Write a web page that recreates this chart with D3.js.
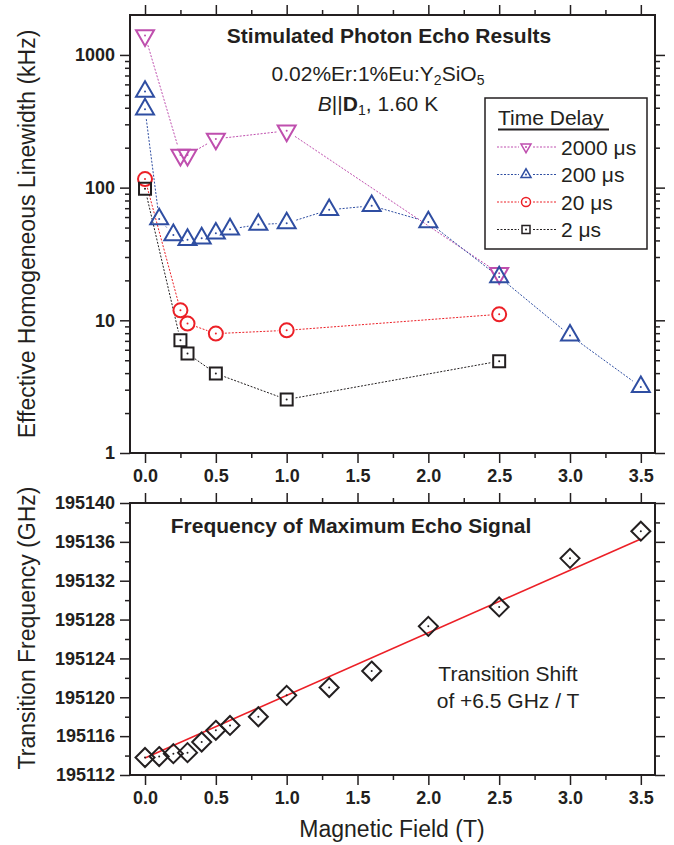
<!DOCTYPE html>
<html>
<head>
<meta charset="utf-8">
<script src="https://cdn.jsdelivr.net/npm/d3@7"></script>
<style>
  body { margin: 0; background: #fff; }
  svg { display: block; font-family: "Liberation Sans", Arial, sans-serif; }
</style>
</head>
<body>
<script>
// Top panel: linewidth (kHz) vs field (T), one array pair per time delay
const x2000 = [0, 0.25, 0.3, 0.5, 1.0, 2.5];
const y2000 = [1400, 176, 176, 233, 268, 22.6];
const x200 = [0, 0, 0.1, 0.2, 0.3, 0.4, 0.5, 0.6, 0.8, 1.0, 1.3, 1.6, 2.0, 2.5, 3.0, 3.5];
const y200 = [530, 390, 58, 44, 40.5, 41.6, 45.3, 48.6, 52.7, 54, 68, 73, 55, 21.2, 7.7, 3.15];
const x20 = [0, 0.25, 0.3, 0.5, 1.0, 2.5];
const y20 = [116, 11.9, 9.45, 7.94, 8.4, 11.1];
const x2 = [0, 0.25, 0.3, 0.5, 1.0, 2.5];
const y2 = [98, 7.07, 5.62, 3.97, 2.53, 4.92];
const delayLabels = ["2000 \u03bcs", "200 \u03bcs", "20 \u03bcs", "2 \u03bcs"];

// Bottom panel: frequency of max echo signal (GHz)
const freqX = [0, 0.1, 0.2, 0.3, 0.4, 0.5, 0.6, 0.8, 1.0, 1.3, 1.6, 2.0, 2.5, 3.0, 3.5];
const freqY = [195113.8, 195113.9, 195114.2, 195114.3, 195115.4, 195116.6, 195117.1, 195118.0,
               195120.2, 195121.0, 195122.7, 195127.3, 195129.3, 195134.3, 195137.1];
const fitX = [0, 3.5];
const fitY = [195113.75, 195136.3];

const fieldTicks = [0, 0.5, 1.0, 1.5, 2.0, 2.5, 3.0, 3.5];
const fieldMinor = [0.25, 0.75, 1.25, 1.75, 2.25, 2.75, 3.25];
const lwTicks = [1, 10, 100, 1000];
const freqTicks = [195112, 195116, 195120, 195124, 195128, 195132, 195136, 195140];
const freqMinor = [195114, 195118, 195122, 195126, 195130, 195134, 195138];

const W = 674, H = 845;
const ink = "#231f20";
const svg = d3.select("body").append("svg").attr("width", W).attr("height", H);

const L = 130, R = 655;
const top1 = 15, bot1 = 453;
const top2 = 503, bot2 = 775;

const x = d3.scaleLinear().domain([-0.106, 3.6]).range([L, R]);
const yLw = d3.scaleLog().domain([1, 2000]).range([bot1, top1]);
const yF = d3.scaleLinear().domain([195112, 195140]).range([bot2, top2]);

// log minor ticks
const lwMinor = [];
for (let d = 1; d <= 1000; d *= 10)
  for (let k = 2; k <= 9; k++) if (d * k < 2000) lwMinor.push(d * k);

function styleAxis(g, bold) {
  g.select(".domain").remove();
  g.selectAll("line").attr("stroke", ink).attr("stroke-width", 1.5);
  g.selectAll("text").attr("fill", ink).attr("font-size", 18)
    .attr("font-weight", bold ? "bold" : "normal");
}

function drawAxes(yScale, yMaj, yMin, yFmt, t, b, xLabels) {
  // x axes (bottom with optional labels, top without)
  svg.append("g").attr("transform", `translate(0,${b})`)
    .call(d3.axisBottom(x).tickValues(fieldTicks).tickSize(10).tickPadding(6)
      .tickFormat(xLabels ? d3.format(".1f") : ""))
    .call(g => styleAxis(g, true));
  svg.append("g").attr("transform", `translate(0,${b})`)
    .call(d3.axisBottom(x).tickValues(fieldMinor).tickSize(5).tickFormat(""))
    .call(g => styleAxis(g));
  svg.append("g").attr("transform", `translate(0,${t})`)
    .call(d3.axisTop(x).tickValues(fieldTicks).tickSize(10).tickFormat(""))
    .call(g => styleAxis(g));
  svg.append("g").attr("transform", `translate(0,${t})`)
    .call(d3.axisTop(x).tickValues(fieldMinor).tickSize(5).tickFormat(""))
    .call(g => styleAxis(g));
  // y axes
  svg.append("g").attr("transform", `translate(${L},0)`)
    .call(d3.axisLeft(yScale).tickValues(yMaj).tickSize(10).tickPadding(5).tickFormat(yFmt))
    .call(g => styleAxis(g, true));
  svg.append("g").attr("transform", `translate(${L},0)`)
    .call(d3.axisLeft(yScale).tickValues(yMin).tickSize(5).tickFormat(""))
    .call(g => styleAxis(g));
  svg.append("g").attr("transform", `translate(${R},0)`)
    .call(d3.axisRight(yScale).tickValues(yMaj).tickSize(10).tickFormat(""))
    .call(g => styleAxis(g));
  svg.append("g").attr("transform", `translate(${R},0)`)
    .call(d3.axisRight(yScale).tickValues(yMin).tickSize(5).tickFormat(""))
    .call(g => styleAxis(g));
  svg.append("rect").attr("x", L).attr("y", t).attr("width", R - L).attr("height", b - t)
    .attr("fill", "none").attr("stroke", ink).attr("stroke-width", 2);
}

drawAxes(yLw, lwTicks, lwMinor, d3.format("d"), top1, bot1, true);
drawAxes(yF, freqTicks, freqMinor, d3.format("d"), top2, bot2, true);

// marker shapes
function markerPath(kind, s) {
  if (kind === "down") return `M${-s},${-s * 0.58}L${s},${-s * 0.58}L0,${s * 1.15}Z`;
  if (kind === "up") return `M${-s},${s * 0.58}L${s},${s * 0.58}L0,${-s * 1.15}Z`;
  if (kind === "square") return `M${-s},${-s}H${s}V${s}H${-s}Z`;
  if (kind === "diamond") return `M0,${-s}L${s},0L0,${s}L${-s},0Z`;
  return d3.arc()({ innerRadius: 0, outerRadius: s, startAngle: 0, endAngle: 2 * Math.PI });
}

function drawMarker(g, kind, s, cx, cy, color, sw) {
  g.append("path").attr("d", markerPath(kind, s))
    .attr("transform", `translate(${cx},${cy})`)
    .attr("fill", "none").attr("stroke", color).attr("stroke-width", sw);
  g.append("circle").attr("cx", cx).attr("cy", cy).attr("r", 1).attr("fill", color);
}

const series = [
  { xs: x2000, ys: y2000, kind: "down", color: "#bf4fae", size: 9, gap: 10 },
  { xs: x200, ys: y200, kind: "up", color: "#2f4ea2", size: 9, gap: 10 },
  { xs: x20, ys: y20, kind: "circle", color: "#ec2027", size: 7, gap: 9 },
  { xs: x2, ys: y2, kind: "square", color: ink, size: 6, gap: 9 }
];

// dotted connectors, cut short near each marker
series.forEach(s => {
  const pts = s.xs.map((v, i) => [x(v), yLw(s.ys[i])]);
  const g = svg.append("g");
  for (let i = 0; i < pts.length - 1; i++) {
    const [x0, y0] = pts[i], [x1, y1] = pts[i + 1];
    const len = Math.hypot(x1 - x0, y1 - y0);
    if (len <= 2 * s.gap + 1) continue;
    const ux = (x1 - x0) / len, uy = (y1 - y0) / len;
    g.append("line")
      .attr("x1", x0 + ux * s.gap).attr("y1", y0 + uy * s.gap)
      .attr("x2", x1 - ux * s.gap).attr("y2", y1 - uy * s.gap)
      .attr("stroke", s.color).attr("stroke-width", 1).attr("stroke-dasharray", "2,1.5");
  }
});
series.forEach(s => {
  const g = svg.append("g");
  s.xs.forEach((v, i) => drawMarker(g, s.kind, s.size, x(v), yLw(s.ys[i]), s.color, 2));
});

// legend
const lg = svg.append("g");
lg.append("rect").attr("x", 485).attr("y", 98).attr("width", 162).attr("height", 151)
  .attr("fill", "#fff").attr("stroke", ink).attr("stroke-width", 1.5);
lg.append("text").attr("x", 498).attr("y", 125).attr("font-size", 21).attr("fill", ink).text("Time Delay");
lg.append("line").attr("x1", 498).attr("x2", 609).attr("y1", 129.5).attr("y2", 129.5)
  .attr("stroke", ink).attr("stroke-width", 1.8);
const legendSizes = [5, 5, 4.5, 4];
series.forEach((s, i) => {
  const yy = 147 + i * 27.5;
  lg.append("line").attr("x1", 497).attr("x2", 519).attr("y1", yy).attr("y2", yy)
    .attr("stroke", s.color).attr("stroke-width", 1).attr("stroke-dasharray", "2,1.5");
  lg.append("line").attr("x1", 533).attr("x2", 557).attr("y1", yy).attr("y2", yy)
    .attr("stroke", s.color).attr("stroke-width", 1).attr("stroke-dasharray", "2,1.5");
  drawMarker(lg, s.kind, legendSizes[i], 526, yy, s.color, 1.5);
  lg.append("text").attr("x", 561).attr("y", yy + 7.5).attr("font-size", 21).attr("fill", ink)
    .text(delayLabels[i]);
});

// top panel annotations
svg.append("text").attr("x", 389).attr("y", 43).attr("text-anchor", "middle")
  .attr("font-size", 21).attr("font-weight", "bold").attr("fill", ink)
  .text("Stimulated Photon Echo Results");
const t2 = svg.append("text").attr("x", 378).attr("y", 81).attr("text-anchor", "middle")
  .attr("font-size", 21).attr("fill", ink);
t2.append("tspan").text("0.02%Er:1%Eu:Y");
t2.append("tspan").attr("dy", 4).attr("font-size", 14).text("2");
t2.append("tspan").attr("dy", -4).text("SiO");
t2.append("tspan").attr("dy", 4).attr("font-size", 14).text("5");
const t3 = svg.append("text").attr("x", 378).attr("y", 111).attr("text-anchor", "middle")
  .attr("font-size", 21).attr("fill", ink);
t3.append("tspan").attr("font-style", "italic").text("B");
t3.append("tspan").text("||");
t3.append("tspan").attr("font-weight", "bold").text("D");
t3.append("tspan").attr("dy", 4).attr("font-size", 14).text("1");
t3.append("tspan").attr("dy", -4).text(", 1.60 K");

// bottom panel: fit line then diamonds
svg.append("path")
  .attr("d", d3.line().x(d => x(d[0])).y(d => yF(d[1]))(fitX.map((v, i) => [v, fitY[i]])))
  .attr("stroke", "#ec2027").attr("stroke-width", 1.6).attr("fill", "none");
const dg = svg.append("g");
freqX.forEach((v, i) => drawMarker(dg, "diamond", 9.5, x(v), yF(freqY[i]), ink, 2));

svg.append("text").attr("x", 351).attr("y", 533).attr("text-anchor", "middle")
  .attr("font-size", 21).attr("font-weight", "bold").attr("fill", ink)
  .text("Frequency of Maximum Echo Signal");
svg.append("text").attr("x", 508).attr("y", 681).attr("text-anchor", "middle")
  .attr("font-size", 21).attr("fill", ink).text("Transition Shift");
svg.append("text").attr("x", 508).attr("y", 708).attr("text-anchor", "middle")
  .attr("font-size", 21).attr("fill", ink).text("of +6.5 GHz / T");

// axis titles
svg.append("text").attr("transform", "translate(35,234) rotate(-90)").attr("text-anchor", "middle")
  .attr("font-size", 23).attr("fill", ink).text("Effective Homogeneous Linewidth (kHz)");
svg.append("text").attr("transform", "translate(35,628) rotate(-90)").attr("text-anchor", "middle")
  .attr("font-size", 23).attr("fill", ink).text("Transition Frequency (GHz)");
svg.append("text").attr("x", 392).attr("y", 837).attr("text-anchor", "middle")
  .attr("font-size", 23).attr("fill", ink).text("Magnetic Field (T)");
</script>
</body>
</html>
